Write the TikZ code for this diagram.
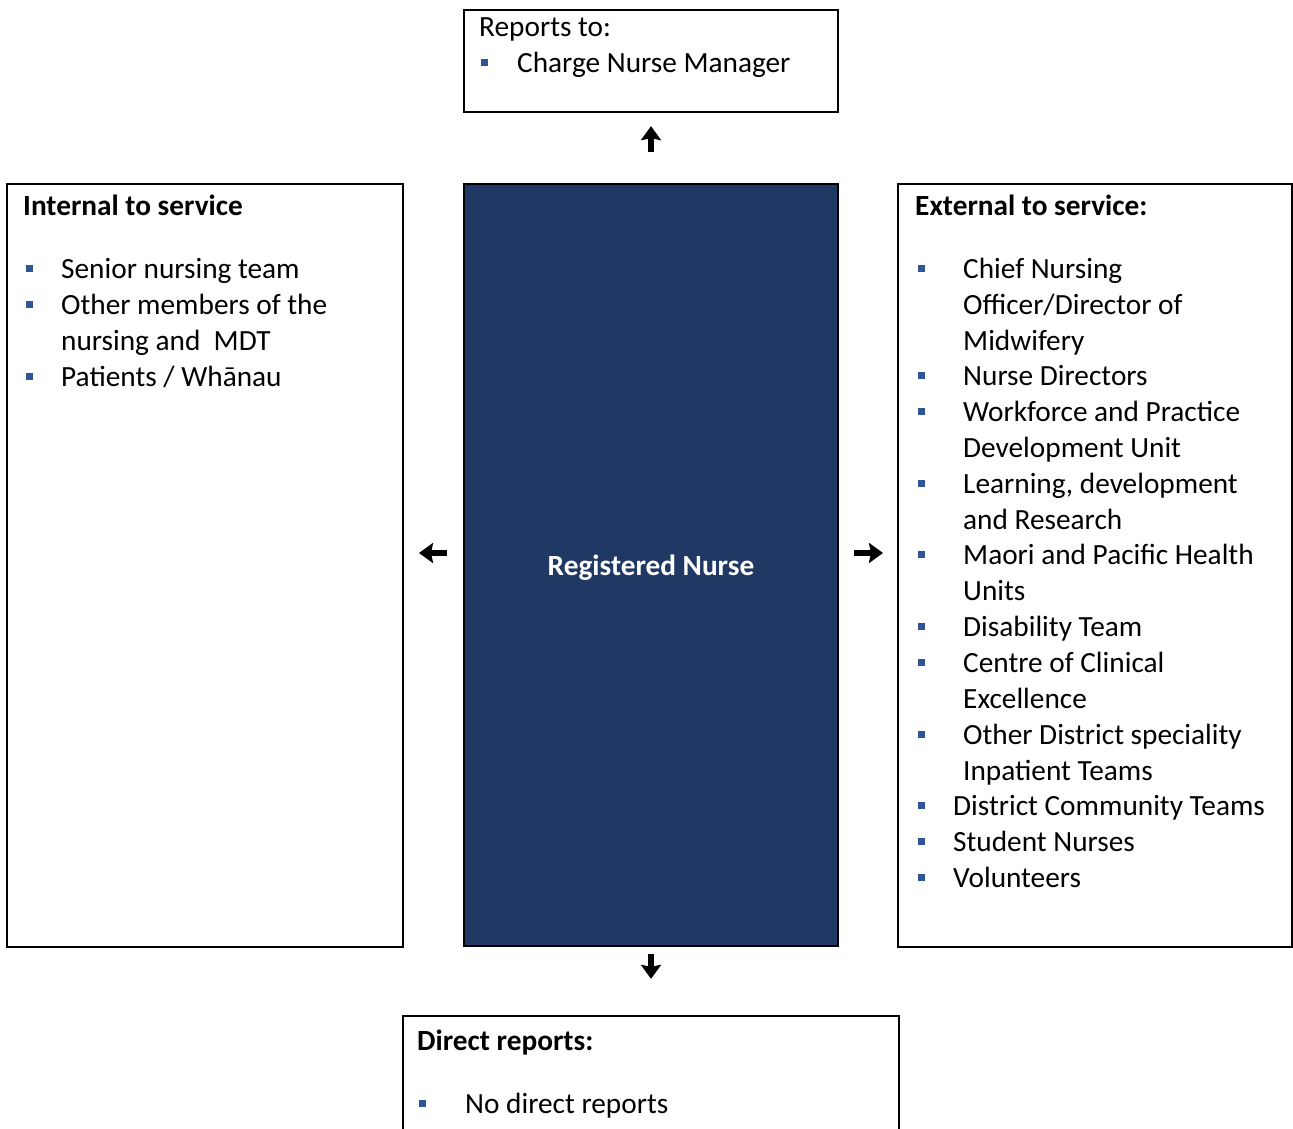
\documentclass[tikz,border=0pt]{standalone}
\usepackage{fontspec}
\setmainfont{Carlito}
\usetikzlibrary{arrows.meta}
\definecolor{navy}{RGB}{32,56,100}
\definecolor{bulblue}{RGB}{47,85,151}
\tikzset{
  box/.style={draw=black, line width=2.3pt, rectangle, inner sep=0pt},
  txt/.style={anchor=base west, inner sep=0pt, font=\fontsize{29.3}{35.9}\selectfont, text=black},
  head/.style={txt, font=\fontsize{29.3}{35.9}\selectfont\bfseries},
  bul/.style={fill=bulblue, minimum size=7pt, inner sep=0pt, rectangle},
  bigarrow/.style={line width=6pt, -{Stealth[width=20pt,length=14pt,inset=2pt]}},
}
\begin{document}
\begin{tikzpicture}[x=1pt,y=-1pt]
\useasboundingbox (0,0) rectangle (1293,1129);
\clip (0,0) rectangle (1293,1129);
% boxes
\node[box, minimum width=374pt, minimum height=102pt] (top) at (651,61) {};
\node[box, fill=navy, minimum width=374pt, minimum height=762pt] (center) at (651,565) {};
\node[box, minimum width=396pt, minimum height=763pt] (left) at (205,565.5) {};
\node[box, minimum width=394pt, minimum height=763pt] (right) at (1095,565.5) {};
\node[box, minimum width=496pt, minimum height=144pt] (bottom) at (651,1088) {};
% center label
\node[font=\fontsize{29.3}{35.9}\selectfont\bfseries, text=white, inner sep=0pt] (rn) at (651,568) {Registered Nurse};
% top box text
\node[txt] (t0) at (479,37) {Reports to:};
\node[bul] (tb1) at (484.5,63) {};
\node[txt] (t1) at (517,73) {Charge Nurse Manager};
% left box text
\node[head] (lh) at (23,215) {Internal to service};
\node[bul] (lb1) at (29,268.5) {};
\node[txt] (l1) at (61,278) {Senior nursing team};
\node[bul] (lb2) at (29,304.5) {};
\node[txt] (l2) at (61,314) {Other members of the};
\node[txt] (l3) at (61,350) {nursing and\ \ MDT};
\node[bul] (lb3) at (29,376.5) {};
\node[txt] (l4) at (61,386) {Patients / Whānau};
% right box text
\node[head] (rh) at (915,215) {External to service:};
\node[bul] (rb1) at (921,268.5) {};
\node[txt] (r1) at (963,278) {Chief Nursing};
\node[txt] (r2) at (963,314) {Officer/Director of};
\node[txt] (r3) at (963,350) {Midwifery};
\node[bul] (rb2) at (921,375.5) {};
\node[txt] (r4) at (963,385) {Nurse Directors};
\node[bul] (rb3) at (921,411.5) {};
\node[txt] (r5) at (963,421) {Workforce and Practice};
\node[txt] (r6) at (963,457) {Development Unit};
\node[bul] (rb4) at (921,483.5) {};
\node[txt] (r7) at (963,493) {Learning, development};
\node[txt] (r8) at (963,529) {and Research};
\node[bul] (rb5) at (921,554.5) {};
\node[txt] (r9) at (963,564) {Maori and Pacific Health};
\node[txt] (r10) at (963,600) {Units};
\node[bul] (rb6) at (921,626.5) {};
\node[txt] (r11) at (963,636) {Disability Team};
\node[bul] (rb7) at (921,662.5) {};
\node[txt] (r12) at (963,672) {Centre of Clinical};
\node[txt] (r13) at (963,708) {Excellence};
\node[bul] (rb8) at (921,734.5) {};
\node[txt] (r14) at (963,744) {Other District speciality};
\node[txt] (r15) at (963,780) {Inpatient Teams};
\node[bul] (rb9) at (921,805.5) {};
\node[txt] (r16) at (953,815) {District Community Teams};
\node[bul] (rb10) at (921,841.5) {};
\node[txt] (r17) at (953,851) {Student Nurses};
\node[bul] (rb11) at (921,877.5) {};
\node[txt] (r18) at (953,887) {Volunteers};
% bottom box text
\node[head] (bh) at (417,1050) {Direct reports:};
\node[bul] (bb1) at (422,1103.5) {};
\node[txt] (b1) at (465,1113) {No direct reports};
% arrows
\draw[bigarrow, shorten <=31pt, shorten >=13pt] (center.north) -- (top.south);
\draw[bigarrow, shorten <=7pt, shorten >=36pt] (center.south) -- (bottom.north);
\coordinate (cl) at (463,553);
\coordinate (lr) at (403,553);
\coordinate (cr) at (839,553);
\coordinate (rl) at (898,553);
\draw[bigarrow, shorten <=16pt, shorten >=16pt] (cl) -- (lr);
\draw[bigarrow, shorten <=15pt, shorten >=15pt] (cr) -- (rl);
\end{tikzpicture}
\end{document}
